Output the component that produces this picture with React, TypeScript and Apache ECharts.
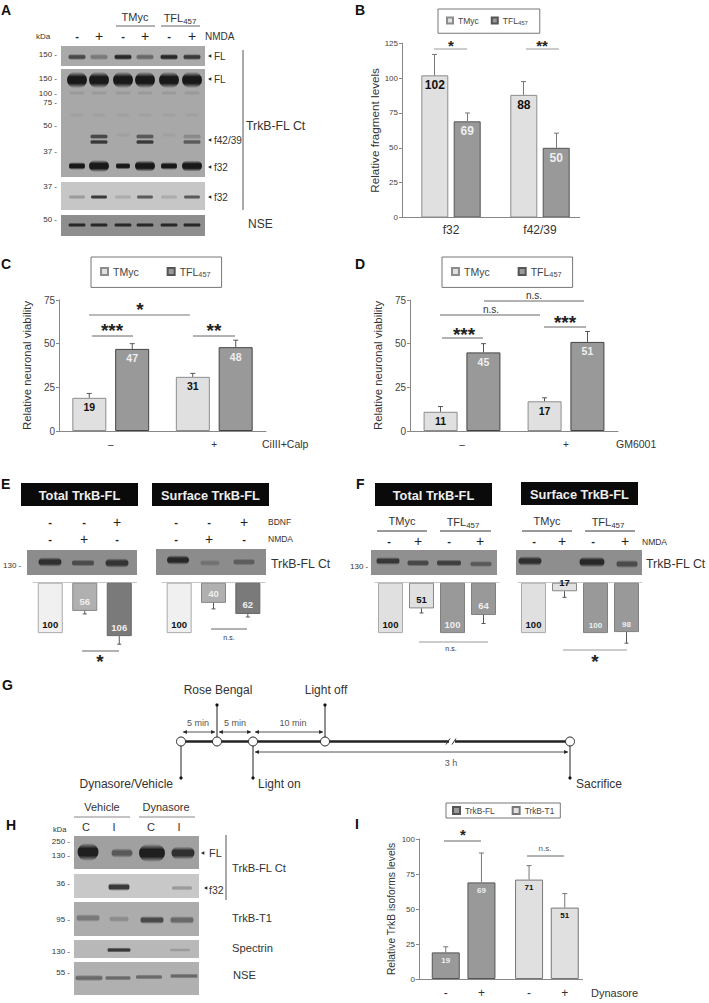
import React, { useEffect, useRef } from "react";
import * as echarts from "echarts";

const F = "Liberation Sans";
// ---------- data ----------
const B_CATS = ["f32", "f42/39"];
const B_TMYC = [102, 88];
const B_TFL = [69, 50];
const B_TMYC_HI = [117, 97.5];
const B_TFL_HI = [75, 60.5];
const C_CATS = ["–", "+"];
const C_TMYC = [19, 31];
const C_TFL = [47, 48];
const C_TMYC_HI = [21.5, 33];
const C_TFL_HI = [50, 52];
const D_CATS = ["–", "+"];
const D_TMYC = [11, 17];
const D_TFL = [45, 51];
const D_TMYC_HI = [14, 19];
const D_TFL_HI = [50, 57];
const E1_VALUES = [100, 56, 106];
const E1_HI = [null, 62, 122];
const E2_VALUES = [100, 40, 62];
const E2_HI = [null, 52, 68];
const F1_VALUES = [100, 51, 100, 64];
const F1_HI = [null, 60, null, 81];
const F2_VALUES = [100, 17, 100, 98];
const F2_HI = [null, 29, null, 120];
const I_CATS = ["", "", "-", "", "", "+", "", "", "", "-", "", "", "+", ""];
const I_FL = [null, null, 19, null, null, 69, null, null, null, null, null, null, null, null];
const I_T1 = [null, null, null, null, null, null, null, null, null, 71, null, null, 51, null];
const I_FL_HI = [null, null, 23, null, null, 90, null, null, null, null, null, null, null, null];
const I_T1_HI = [null, null, null, null, null, null, null, null, null, 81, null, null, 61, null];

const LIGHT = "#e0e0e0";
const DARK = "#999999";

// ---------- drawing helpers ----------
const t = (x: number, y: number, text: string, o: any = {}) => ({
  type: "text",
  x,
  y,
  silent: true,
  z: 20,
  style: {
    text,
    fontFamily: F,
    fontSize: o.size ?? 10,
    fontWeight: o.weight ?? "normal",
    fill: o.color ?? "#333",
    align: o.align ?? "left",
    verticalAlign: "middle",
    rich: o.rich,
  },
});
const l = (x1: number, y1: number, x2: number, y2: number, stroke = "#666", lineWidth = 1) => ({
  type: "line",
  silent: true,
  z: 20,
  shape: { x1, y1, x2, y2 },
  style: { stroke, lineWidth },
});
const tri = (x: number, y: number, dir: number, s = 3, fill = "#222") => ({
  type: "polygon",
  silent: true,
  z: 21,
  shape: { points: [[x, y], [x - dir * s * 1.5, y - s * 0.8], [x - dir * s * 1.5, y + s * 0.8]] },
  style: { fill },
});
const rect = (x: number, y: number, width: number, height: number, fill: string) => ({
  type: "rect",
  silent: true,
  z: 5,
  shape: { x, y, width, height },
  style: { fill },
});
const rgba = (hex: string, a: number) => {
  const h = hex.replace("#", "");
  const full = h.length === 3 ? h.split("").map((c) => c + c).join("") : h;
  const n = parseInt(full, 16);
  return `rgba(${(n >> 16) & 255},${(n >> 8) & 255},${n & 255},${a})`;
};
const band = (cx: number, cy: number, w: number, h: number, color: string) => {
  const hh = h * 1.7 + 1;
  return {
    type: "rect",
    silent: true,
    z: 6,
    shape: { x: cx - w / 2, y: cy - hh / 2, width: w, height: hh, r: hh / 2 },
    style: {
      fill: new echarts.graphic.LinearGradient(0, 0, 0, 1, [
        { offset: 0, color: rgba(color, 0) },
        { offset: 0.3, color: rgba(color, 0.95) },
        { offset: 0.7, color: rgba(color, 0.95) },
        { offset: 1, color: rgba(color, 0) },
      ]),
    },
  };
};
const star = (cx: number, cy: number, n: number, size = 19) =>
  t(cx, cy + size * 0.13, "*".repeat(n), { size, weight: "bold", align: "center", color: "#222" });
const tfl = (x: number, y: number, size: number, align = "center") =>
  t(x, y, "TFL{s|457}", {
    size,
    align,
    rich: { s: { fontSize: size * 0.72, fontFamily: F, fill: "#333", color: "#333", padding: [size * 0.65, 0, 0, 0], verticalAlign: "bottom" } },
  });
const pm = (x: number, y: number, s: string) =>
  s === "+" ? t(x, y, "+", { size: 14, align: "center", color: "#222" }) : t(x, y, s, { size: 11, weight: "bold", align: "center", color: "#222" });

function buildGraphics() {
  const g: any[] = [];
  // panel letters
  ([["A", 1, 10], ["B", 355, 10], ["C", 1, 264], ["D", 355, 264], ["E", 1, 484], ["F", 356, 484], ["G", 2, 685], ["H", 6, 825], ["I", 355, 824]] as any[]).forEach(
    ([s, x, y]) => g.push(t(x, y, s, { size: 14, weight: "bold", color: "#111" }))
  );

  // ---- A
  const laneA = [77, 99, 123, 145, 169, 192];
  g.push(t(135, 17, "TMyc", { size: 11, align: "center" }), l(116, 26, 155, 26), tfl(180, 18, 11), l(161, 26, 200, 26));
  g.push(t(36, 36, "kDa", { size: 8 }), t(205, 36, "NMDA", { size: 10 }));
  laneA.forEach((x, i) => g.push(pm(x, 36, i % 2 ? "+" : "-")));
  ([["150 -", 54], ["150 -", 78], ["100 -", 93], ["75 -", 102], ["50 -", 125], ["37 -", 151], ["37 -", 186], ["50 -", 219]] as any[]).forEach(([s, y]) =>
    g.push(t(57, y, s, { size: 8, align: "right" }))
  );
  g.push(rect(61, 46, 144, 20, "#a9a9a9"), rect(61, 69, 144, 108, "#a8a8a8"), rect(61, 182, 144, 28, "#c6c6c6"), rect(61, 215, 144, 21, "#8e8e8e"));
  ["#444", "#777", "#222", "#666", "#222", "#333"].forEach((c, i) => g.push(band(laneA[i], 57, 17, 3, c)));
  laneA.forEach((x) => {
    g.push(band(x, 80, 20, 9, "#111"), band(x, 93, 15, 2, "#999999"), band(x, 115, 13, 2, "#a0a0a0"));
  });
  ([[99, "#444", "#333"], [145, "#555", "#333"], [192, "#888", "#555"]] as any[]).forEach(([x, c1, c2]) =>
    g.push(band(x, 136.5, 17, 2.4, c1), band(x, 142, 17, 2.4, c2))
  );
  [123, 169].forEach((x) => g.push(band(x, 135, 13, 2, "#a0a0a0")));
  [[16, 4], [20, 6.5], [14, 3.5], [20, 6], [16, 4], [20, 6]].forEach(([w, h], i) => g.push(band(laneA[i], 166, w, h, "#111")));
  ["#999", "#333", "#aaa", "#555", "#aaa", "#555"].forEach((c, i) => g.push(band(laneA[i], 197, 16, 2, c)));
  laneA.forEach((x) => g.push(band(x, 225, 17, 2, "#222")));
  ([[208, 56, "FL", 214], [208, 79, "FL", 214], [208, 140, "f42/39", 214], [208, 167, "f32", 214], [208, 197, "f32", 214]] as any[]).forEach(([x, y, s, tx]) => {
    g.push(tri(x, y, -1, 2.2), t(tx, y, s, { size: 10 }));
  });
  g.push(l(243, 50, 243, 210, "#555"), t(246, 126, "TrkB-FL Ct", { size: 12.3 }), t(248, 224, "NSE", { size: 12 }));

  // ---- B
  g.push(l(402, 217.5, 580, 217.5, "#888"));
  g.push(l(434, 49, 467, 49, "#999"), star(451, 44, 1, 15), l(526, 49, 559, 49, "#999"), star(542, 44, 2, 15));
  // ---- C
  g.push(l(89, 315, 190, 315, "#bbb", 2), star(140, 307, 1), l(92, 336, 133, 336, "#666"), star(112, 328, 3), l(193, 336, 235, 336, "#666"), star(214, 328, 2));
  g.push(t(262, 444, "CiIII+Calp", { size: 10.5 }));
  // ---- D
  g.push(l(484, 301, 584, 301), t(534, 295, "n.s.", { size: 10, align: "center" }), l(440, 315, 540, 315), t(491, 309, "n.s.", { size: 10, align: "center" }));
  g.push(l(442, 338, 483, 338, "#666"), star(464, 332, 3), l(544, 327, 586, 327, "#666"), star(565, 320, 3));
  g.push(t(616, 444, "GM6001", { size: 10.5 }));

  // ---- E
  const header = (x: number, y: number, s: string) => {
    g.push(rect(x, y, 117, 23, "#0a0a0a"), t(x + 58.5, y + 12, s, { size: 12.8, weight: "bold", color: "#eee", align: "center" }));
  };
  header(21, 483, "Total TrkB-FL");
  header(152, 483, "Surface TrkB-FL");
  header(375, 483, "Total TrkB-FL");
  header(521, 482, "Surface TrkB-FL");
  const eRow = (xs: number[], y: number, s: string[]) => xs.forEach((x, i) => g.push(pm(x, y, s[i])));
  eRow([50, 84, 117, 176, 209, 244], 522, ["-", "-", "+", "-", "-", "+"]);
  eRow([50, 84, 117, 176, 209, 244], 539, ["-", "+", "-", "-", "+", "-"]);
  g.push(t(268, 522, "BDNF", { size: 8.5 }), t(268, 539, "NMDA", { size: 8.5 }));
  g.push(rect(27, 550, 110, 25, "#8c8c8c"), rect(156, 549, 110, 26, "#8c8c8c"));
  g.push(band(50, 562, 23, 5, "#2a2a2a"), band(83, 563, 22, 3.5, "#484848"), band(117, 563, 23, 5, "#2f2f2f"));
  g.push(band(178, 560, 22, 5, "#222"), band(210, 563, 19, 3, "#707070"), band(244, 562, 21, 3.5, "#5a5a5a"));
  g.push(t(3, 565, "130 -", { size: 8 }), t(271, 564, "TrkB-FL Ct", { size: 12.3 }));
  g.push(l(82, 651, 119, 651), star(100, 659, 1), l(211, 629, 247, 629), t(229, 637, "n.s.", { size: 7, align: "center" }));

  // ---- F
  g.push(t(402, 521, "TMyc", { size: 11, align: "center" }), l(377, 531, 427, 531, "#333"), tfl(463, 522, 11), l(440, 531, 491, 531, "#333"));
  g.push(t(547, 521, "TMyc", { size: 11, align: "center" }), l(522, 531, 572, 531, "#333"), tfl(608, 522, 11), l(585, 531, 635, 531, "#333"));
  eRow([389, 418, 449, 480, 534, 562, 593, 625], 541, ["-", "+", "-", "+", "-", "+", "-", "+"]);
  g.push(t(642, 542, "NMDA", { size: 8.5 }));
  g.push(rect(371, 550, 126, 25, "#909090"), rect(516, 550, 126, 25, "#8e8e8e"));
  g.push(band(388, 561, 23, 4, "#333"), band(418, 563, 21, 3.5, "#444"), band(449, 563, 24, 3.5, "#3a3a3a"), band(481, 564, 21, 3, "#555"));
  g.push(band(530, 561, 23, 5, "#2a2a2a"), band(592, 562, 25, 5.5, "#222"), band(627, 564, 21, 4, "#484848"));
  g.push(t(350, 566, "130 -", { size: 8 }), t(646, 564, "TrkB-FL Ct", { size: 12.3 }));
  g.push(l(419, 642, 488, 642, "#999"), t(451, 648, "n.s.", { size: 7, align: "center" }), l(563, 650, 627, 650, "#999"), star(595, 659, 1));

  // ---- G
  const nodes = [181, 217, 253, 325, 570];
  const yG = 741.5;
  g.push(l(181, yG, 449, yG, "#222", 2.5), l(455, yG, 570, yG, "#222", 2.5), l(446, yG + 3, 450, yG - 3, "#333"), l(452, yG + 3, 456, yG - 3, "#333"));
  g.push(l(181, yG, 181, 778, "#222"), l(217, 705, 217, yG, "#222"), l(253, yG, 253, 778, "#222"), l(325, 705, 325, yG, "#222"), l(570, yG, 570, 778, "#222"));
  ([[181, 778], [217, 705], [253, 778], [325, 705], [570, 778]] as any[]).forEach(([cx, cy]) =>
    g.push({ type: "circle", silent: true, z: 21, shape: { cx, cy, r: 1.6 }, style: { fill: "#111" } })
  );
  nodes.forEach((cx) => g.push({ type: "circle", silent: true, z: 22, shape: { cx, cy: yG, r: 4.5 }, style: { fill: "#fff", stroke: "#222", lineWidth: 1 } }));
  const arrow = (x1: number, x2: number, y: number) => {
    g.push(l(x1, y, x2, y, "#555"), tri(x1, y, -1, 2.6), tri(x2, y, 1, 2.6));
  };
  arrow(183, 215, 732);
  arrow(219, 251, 732);
  arrow(255, 323, 732);
  arrow(255, 568, 752);
  g.push(t(198, 723, "5 min", { size: 9, align: "center", color: "#555" }), t(235, 723, "5 min", { size: 9, align: "center", color: "#555" }), t(293, 723, "10 min", { size: 9, align: "center", color: "#555" }), t(451, 763, "3 h", { size: 9, align: "center", color: "#555" }));
  g.push(t(218, 690, "Rose Bengal", { size: 12, align: "center" }), t(326, 690, "Light off", { size: 12, align: "center" }), t(173, 783.5, "Dynasore/Vehicle", { size: 12, align: "right" }), t(258, 783.5, "Light on", { size: 12 }), t(576, 783.5, "Sacrifice", { size: 12 }));

  // ---- H
  g.push(t(102, 807, "Vehicle", { size: 11, align: "center" }), l(74, 817, 130, 817, "#888"), t(166, 807, "Dynasore", { size: 11, align: "center" }), l(139, 817, 195, 817, "#888"));
  g.push(t(53, 829, "kDa", { size: 7.5 }));
  ([["C", 86], ["I", 114], ["C", 151], ["I", 179]] as any[]).forEach(([s, x]) => g.push(t(x, 827, s, { size: 11, align: "center" })));
  g.push(rect(74, 836, 125, 33, "#a0a0a0"), rect(74, 874, 125, 24, "#c8c8c8"), rect(74, 902, 125, 34, "#acacac"), rect(74, 940, 125, 18, "#b8b8b8"), rect(74, 962, 125, 33, "#b0b0b0"));
  g.push(band(88, 852, 21, 10, "#181818"), band(122, 853, 21, 5, "#555"), band(152, 853, 26, 10, "#181818"), band(183, 853, 23, 7, "#2a2a2a"));
  g.push(band(119, 887, 21, 4, "#333"), band(182, 888, 20, 2.4, "#999"));
  g.push(band(88, 918, 23, 4, "#777"), band(119, 919, 19, 3, "#8a8a8a"), band(152, 920, 23, 4, "#444"), band(182, 920, 23, 4, "#666"));
  g.push(band(119, 950, 23, 2.4, "#333"), band(180, 950, 20, 1.6, "#999"));
  g.push(band(89, 978, 27, 3, "#666"), band(118, 978, 25, 2.4, "#666"), band(149, 977, 26, 2.4, "#666"), band(184, 976, 27, 2.4, "#666"));
  ([["250 -", 841], ["130 -", 855], ["36 -", 883], ["95 -", 919], ["130 -", 951], ["55 -", 972]] as any[]).forEach(([s, y]) => g.push(t(70, y, s, { size: 8, align: "right" })));
  g.push(l(226, 835, 226, 900, "#555"), tri(201, 853, -1, 2.2), t(209, 853, "FL", { size: 11 }), tri(204, 888, -1, 2.2), t(209, 890, "f32", { size: 10.5 }));
  g.push(t(232, 868, "TrkB-FL Ct", { size: 11.2 }), t(232, 918, "TrkB-T1", { size: 11.2 }), t(232, 948, "Spectrin", { size: 11.2 }), t(233, 975, "NSE", { size: 11.2 }));

  // ---- I
  g.push(l(444, 841, 481, 841), star(463, 833, 1, 15), l(527, 856, 564, 856), t(545, 848, "n.s.", { size: 8, align: "center", color: "#555" }));
  g.push(t(591, 993, "Dynasore", { size: 11 }));
  return g;
}

// ---------- chart builders ----------
const errorSeries = (gridIdx: number, rows: any[], offset: number, stroke: string, cap = 5) => ({
  type: "custom",
  silent: true,
  xAxisIndex: gridIdx,
  yAxisIndex: gridIdx,
  encode: { x: 0, y: [1, 2] },
  data: rows,
  z: 4,
  renderItem: (_p: any, api: any) => {
    const a = api.coord([api.value(0), api.value(1)]);
    const b = api.coord([api.value(0), api.value(2)]);
    const x = a[0] + offset;
    return {
      type: "group",
      children: [
        { type: "line", shape: { x1: x, y1: a[1], x2: x, y2: b[1] }, style: { stroke, lineWidth: 1 } },
        { type: "line", shape: { x1: x - cap / 2, y1: b[1], x2: x + cap / 2, y2: b[1] }, style: { stroke, lineWidth: 1 } },
      ],
    };
  },
});
const rows = (low: (number | null)[], hi: (number | null)[]) =>
  low.map((v, i) => (hi[i] == null ? null : [i, v, hi[i]])).filter(Boolean);

const labelOf = (color: string, size: number, dist: number, position = "insideTop", weight = "bold") => ({
  show: true,
  position,
  distance: dist,
  color,
  fontFamily: F,
  fontSize: size,
  fontWeight: weight,
});

function groupedBar(name: string, idx: number, values: number[], fill: string, border: string, width: number, gap: string, label: any) {
  return {
    type: "bar",
    name,
    xAxisIndex: idx,
    yAxisIndex: idx,
    data: values,
    barWidth: width,
    barGap: gap,
    itemStyle: { color: fill, borderColor: border, borderWidth: 1 },
    label,
  };
}

function buildOption() {
  const grid: any[] = [];
  const xAxis: any[] = [];
  const yAxis: any[] = [];
  const series: any[] = [];
  const addUpright = (o: any) => {
    const i = grid.length;
    grid.push({ left: o.left, top: o.top, width: o.width, height: o.height, containLabel: false });
    xAxis.push({
      type: "category",
      gridIndex: i,
      data: o.cats,
      axisTick: { show: false },
      axisLine: { show: o.hideLine ? false : true, lineStyle: { color: "#888", width: 1 } },
      axisLabel: { interval: 0, fontFamily: F, fontSize: o.catSize, color: "#333", margin: o.catMargin },
    });
    yAxis.push({
      type: "value",
      gridIndex: i,
      min: 0,
      max: o.max,
      interval: 25,
      offset: o.yOffset ?? 0,
      splitLine: { show: false },
      axisLine: { show: true, lineStyle: { color: "#888" } },
      axisTick: { show: true, length: 3, lineStyle: { color: "#888" } },
      axisLabel: { fontFamily: F, fontSize: o.tickSize, color: "#444", margin: 4 },
      name: o.yName,
      nameLocation: "middle",
      nameGap: o.nameGap,
      nameTextStyle: { fontFamily: F, fontSize: o.nameSize, color: "#333" },
    });
    return i;
  };
  const addInverted = (left: number, width: number, cats: string[]) => {
    const i = grid.length;
    grid.push({ left, top: 582.7, width, height: 63 });
    xAxis.push({
      type: "category",
      gridIndex: i,
      position: "top",
      data: cats,
      axisTick: { show: false },
      axisLabel: { show: false },
      axisLine: { lineStyle: { color: "#c8c8c8" } },
    });
    yAxis.push({ type: "value", gridIndex: i, inverse: true, min: 0, max: 125, show: false, splitLine: { show: false } });
    return i;
  };

  // B
  let i = addUpright({ left: 406.5, top: 43.3, width: 178, height: 174.2, cats: B_CATS, max: 125, catSize: 12, catMargin: 6, tickSize: 8, yName: "Relative fragment levels", nameGap: 21, nameSize: 11.7, yOffset: 4.5, hideLine: true });
  series.push(
    groupedBar("TMyc", i, B_TMYC, LIGHT, "#8c8c8c", 27, "20%", labelOf("#111", 12, 4)),
    groupedBar("TFL457", i, B_TFL, DARK, "#555", 27, "20%", labelOf("#eee", 12, 4)),
    errorSeries(i, rows(B_TMYC, B_TMYC_HI), -16.5, "#777"),
    errorSeries(i, rows(B_TFL, B_TFL_HI), 16.5, "#777")
  );
  // C
  i = addUpright({ left: 59, top: 300, width: 207, height: 131, cats: C_CATS, max: 75, catSize: 10, catMargin: 8, tickSize: 10, yName: "Relative neuronal viability", nameGap: 27, nameSize: 11.4 });
  series.push(
    groupedBar("TMyc", i, C_TMYC, LIGHT, "#8c8c8c", 34, "26%", labelOf("#111", 10.5, 4)),
    groupedBar("TFL457", i, C_TFL, DARK, "#444", 34, "26%", labelOf("#eee", 10.5, 4)),
    errorSeries(i, rows(C_TMYC, C_TMYC_HI), -21.5, "#555"),
    errorSeries(i, rows(C_TFL, C_TFL_HI), 21.5, "#555")
  );
  // D
  i = addUpright({ left: 410, top: 300, width: 208, height: 131, cats: D_CATS, max: 75, catSize: 10, catMargin: 8, tickSize: 10, yName: "Relative neuronal viability", nameGap: 27, nameSize: 11.4 });
  series.push(
    groupedBar("TMyc", i, D_TMYC, LIGHT, "#8c8c8c", 34, "26%", labelOf("#111", 10.5, 4)),
    groupedBar("TFL457", i, D_TFL, DARK, "#444", 34, "26%", labelOf("#eee", 10.5, 4)),
    errorSeries(i, rows(D_TMYC, D_TMYC_HI), -21.5, "#555"),
    errorSeries(i, rows(D_TFL, D_TFL_HI), 21.5, "#555")
  );
  // E / F inverted
  const invSeries = (idx: number, values: number[], hi: (number | null)[], fills: string[], borders: string[], labels: string[], sizes: number[], weights: string[]) => {
    series.push({
      type: "bar",
      xAxisIndex: idx,
      yAxisIndex: idx,
      barWidth: 25,
      data: values.map((v, k) => ({
        value: v,
        itemStyle: { color: fills[k], borderColor: borders[k], borderWidth: 1 },
        label: labelOf(labels[k], sizes[k], 4, "insideBottom", weights[k]),
      })),
      label: { show: true },
    });
    series.push(errorSeries(idx, rows(values, hi), 0, "#555", 4));
  };
  const eFills = ["#f0f0f0", "#b0b0b0", "#7a7a7a"];
  const eBorders = ["#aaa", "#888", "#666"];
  const eLabels = ["#111", "#eee", "#eee"];
  i = addInverted(33, 103.5, ["1", "2", "3"]);
  invSeries(i, E1_VALUES, E1_HI, eFills, eBorders, eLabels, [9.5, 9.5, 9.5], ["bold", "bold", "bold"]);
  i = addInverted(162, 103, ["1", "2", "3"]);
  invSeries(i, E2_VALUES, E2_HI, eFills, eBorders, eLabels, [9.5, 9.5, 9.5], ["bold", "bold", "bold"]);
  const fFills = [LIGHT, LIGHT, DARK, DARK];
  const fBorders = ["#aaa", "#888", "#808080", "#808080"];
  const fLabels = ["#111", "#111", "#eee", "#eee"];
  i = addInverted(375, 124, ["1", "2", "3", "4"]);
  invSeries(i, F1_VALUES, F1_HI, fFills, fBorders, fLabels, [9.5, 9.5, 9.5, 9.5], ["bold", "bold", "bold", "bold"]);
  i = addInverted(518, 124, ["1", "2", "3", "4"]);
  invSeries(i, F2_VALUES, F2_HI, fFills, fBorders, fLabels, [9.5, 9.5, 8, 8], ["bold", "bold", "bold", "bold"]);

  // I
  i = addUpright({ left: 416, top: 839, width: 166.6, height: 140, cats: I_CATS, max: 100, catSize: 12, catMargin: 8, tickSize: 8, yName: "Relative TrkB isoforms levels", nameGap: 23, nameSize: 10.3, yOffset: -3 });
  series.push(
    groupedBar("TrkB-FL", i, I_FL as any, DARK, "#555", 28, "-100%", labelOf("#eee", 8, 4)),
    groupedBar("TrkB-T1", i, I_T1 as any, LIGHT, "#777", 28, "-100%", labelOf("#111", 8, 4)),
    errorSeries(i, rows(I_FL, I_FL_HI), 0, "#777"),
    errorSeries(i, rows(I_T1, I_T1_HI), 0, "#777")
  );

  const legendFmt = (n: string) => (n === "TFL457" ? "TFL{s|457}" : n);
  const legend = (left: number, top: number, names: string[], size: number, item: number, gap: number, pad: number[]) => ({
    left,
    top,
    orient: "horizontal",
    data: names,
    selectedMode: false,
    icon: "rect",
    itemWidth: item,
    itemHeight: item,
    itemGap: gap,
    padding: pad,
    borderColor: "#777",
    borderWidth: 1,
    formatter: legendFmt,
    textStyle: {
      fontFamily: F,
      fontSize: size,
      color: "#444",
      rich: { s: { fontFamily: F, fontSize: size * 0.7, color: "#444", padding: [size * 0.65, 0, 0, 0], verticalAlign: "bottom" } },
    },
  });

  return {
    animation: false,
    backgroundColor: "#fff",
    grid,
    xAxis,
    yAxis,
    series,
    legend: [
      legend(438, 9, ["TMyc", "TFL457"], 8.5, 6, 12, [7, 12, 7, 8]),
      legend(91, 257, ["TMyc", "TFL457"], 10.5, 7, 28, [9, 11, 9, 9]),
      legend(442, 257, ["TMyc", "TFL457"], 10.5, 7, 28, [9, 11, 9, 9]),
      legend(446, 803, ["TrkB-FL", "TrkB-T1"], 8.3, 7, 17, [3, 6, 3, 6]),
    ],
    graphic: { elements: buildGraphics() },
  };
}

export default function App() {
  const ref = useRef<HTMLDivElement>(null);
  useEffect(() => {
    document.body.style.margin = "0";
    const chart = echarts.init(ref.current!, null, { renderer: "svg" });
    chart.setOption(buildOption() as any);
    return () => chart.dispose();
  }, []);
  return <div ref={ref} style={{ width: 709, height: 1003 }} />;
}
